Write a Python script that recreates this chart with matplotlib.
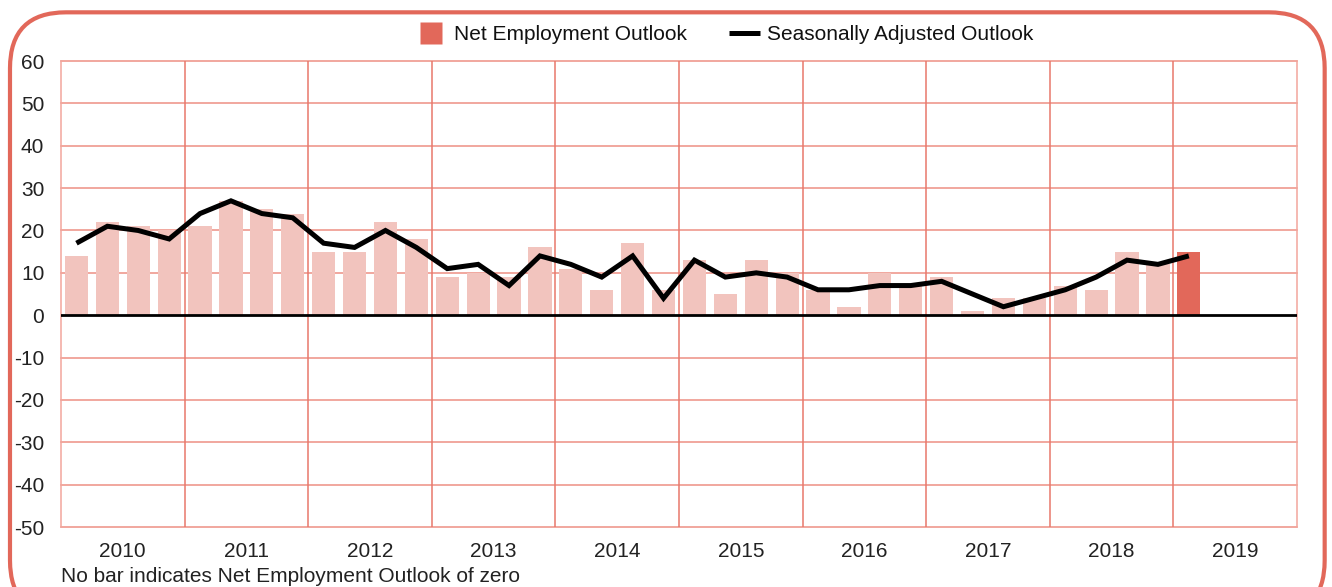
import matplotlib.pyplot as plt
from matplotlib.patches import FancyBboxPatch
from matplotlib.lines import Line2D

plt.rcParams['font.family'] = ['Liberation Sans', 'DejaVu Sans']
plt.rcParams['axes.unicode_minus'] = False

# quarterly data, 2010 Q1 .. 2019 Q1
years = ['2010', '2011', '2012', '2013', '2014', '2015', '2016', '2017', '2018', '2019']
net_outlook = [14, 22, 21, 20,
               21, 27, 25, 24,
               15, 15, 22, 18,
               9, 10, 9, 16,
               11, 6, 17, 6,
               13, 5, 13, 10,
               6, 2, 10, 7,
               9, 1, 4, 4,
               7, 6, 15, 12,
               15]
seasonal_adj = [17, 21, 20, 18,
                24, 27, 24, 23,
                17, 16, 20, 16,
                11, 12, 7, 14,
                12, 9, 14, 4,
                13, 9, 10, 9,
                6, 6, 7, 7,
                8, 5, 2, 4,
                6, 9, 13, 12,
                14]

orange = '#E2685A'
light_bar = '#F2C4BE'
hgrid = '#EE8F84'
vgrid = '#E8786B'
edge_c = '#F2A69D'

fig = plt.figure(figsize=(13.32, 5.87), dpi=100)

# rounded frame around everything
frame = FancyBboxPatch((0.0075, -0.05), 0.987, 1.029, boxstyle="round,pad=0,rounding_size=0.042",
                       transform=fig.transFigure, facecolor='none', edgecolor=orange,
                       linewidth=3, mutation_aspect=1332 / 587, zorder=-1)
fig.patches.append(frame)

ax = fig.add_axes([0.0458, 0.1022, 0.9279, 0.7938])
ax.set_facecolor('none')

xs = [i + 0.5 for i in range(len(net_outlook))]
colors = [light_bar] * (len(net_outlook) - 1) + [orange]
ax.bar(xs, net_outlook, width=0.75, color=colors, zorder=2)
ax.plot(xs, seasonal_adj, color='black', linewidth=3.6, solid_joinstyle='miter',
        solid_capstyle='butt', zorder=4)
ax.axhline(0, color='black', linewidth=2, zorder=3)

ax.set_xlim(0, 40)
ax.set_ylim(-50, 60)
ax.set_yticks(range(-50, 61, 10))
ax.set_xticks([4 * k + 2 for k in range(len(years))])
ax.set_xticklabels(years)
for y in range(-50, 61, 10):
    if y != 0:
        ax.axhline(y, color=hgrid, linewidth=1.1, zorder=1, clip_on=False)
for k in range(1, 10):
    ax.axvline(4 * k, color=vgrid, linewidth=1.1, zorder=1)
ax.axvline(0, color=edge_c, linewidth=1.1, zorder=1, clip_on=False)
ax.axvline(40, color=edge_c, linewidth=1.1, zorder=1, clip_on=False)

for s in ax.spines.values():
    s.set_visible(False)
ax.tick_params(axis='both', length=0, labelsize=15, colors='#222222')
ax.tick_params(axis='y', pad=12)
ax.tick_params(axis='x', pad=11)

handles = [Line2D([0], [0], linestyle='none', marker='s', markersize=16,
                  markerfacecolor=orange, markeredgecolor='none'),
           Line2D([0], [0], color='black', linewidth=3.6, solid_capstyle='butt')]
fig.legend(handles, ['Net Employment Outlook', 'Seasonally Adjusted Outlook'],
           loc='center', bbox_to_anchor=(0.544, 0.941), ncol=2, frameon=False,
           fontsize=15, handlelength=1.5, columnspacing=2.0,
           handletextpad=0.35, labelcolor='#111111')

fig.text(0.0458, 0.018, 'No bar indicates Net Employment Outlook of zero',
         fontsize=15, color='#222222', ha='left', va='center')

plt.savefig('out.png', dpi=100, facecolor='white')
